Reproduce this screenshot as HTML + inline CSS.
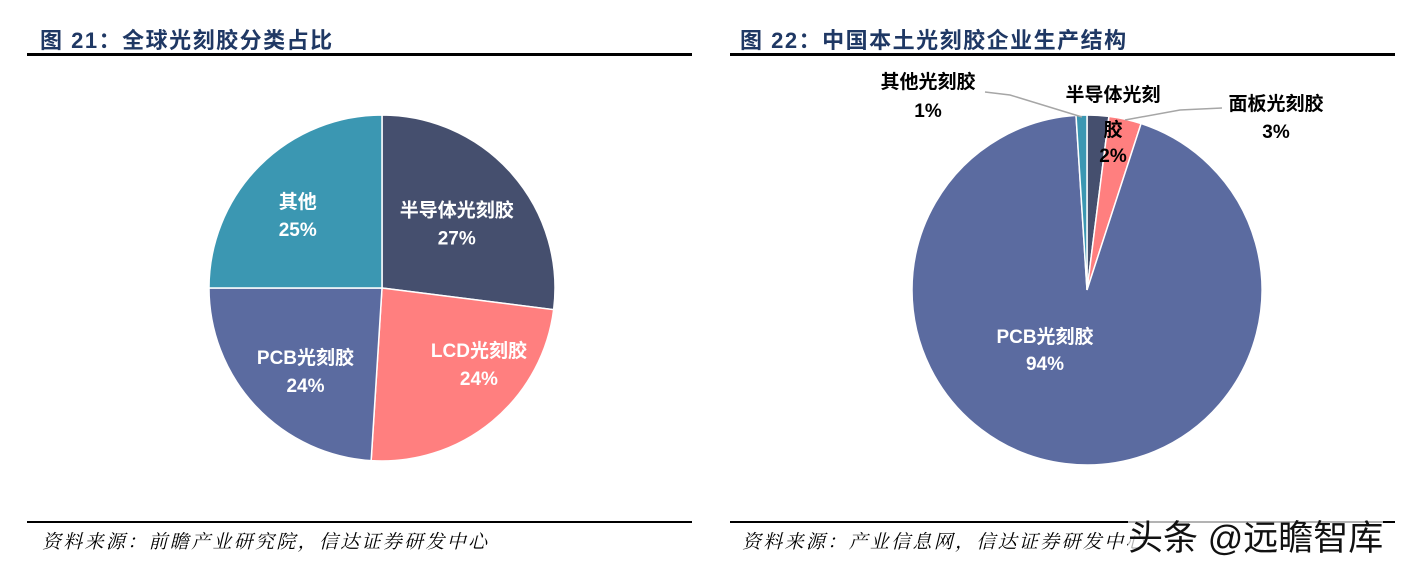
<!DOCTYPE html>
<html><head><meta charset="utf-8"><style>
html,body{margin:0;width:1402px;height:567px;overflow:hidden}
body{background:#fff;position:relative;font-family:"Liberation Sans","Noto Sans CJK SC",sans-serif}
.t{position:absolute;top:23px;font-size:22px;font-weight:bold;color:#1F3864;letter-spacing:1.5px;white-space:nowrap}
.ln{position:absolute;background:#000}
.src{position:absolute;top:527px;font-size:19px;letter-spacing:2.3px;font-style:italic;color:#000;font-family:"Liberation Serif","Noto Serif CJK SC",serif;white-space:nowrap}
.wm{position:absolute;left:1128px;top:510px;font-size:35px;color:#111;background:rgba(255,255,255,0.7);white-space:nowrap}
</style></head><body>
<div class="t" style="left:40px">图 21：全球光刻胶分类占比</div>
<div class="ln" style="left:27px;top:53px;width:665px;height:3px"></div>
<div class="t" style="left:740px">图 22：中国本土光刻胶企业生产结构</div>
<div class="ln" style="left:730px;top:53px;width:665px;height:3px"></div>
<div class="ln" style="left:27px;top:521px;width:665px;height:2px"></div>
<div class="ln" style="left:730px;top:521px;width:665px;height:2px"></div>
<div class="src" style="left:42px">资料来源：前瞻产业研究院，信达证券研发中心</div>
<div class="src" style="left:742px">资料来源：产业信息网，信达证券研发中心</div>
<svg id="svg" width="1402" height="567" style="position:absolute;left:0;top:0"></svg>
<div class="wm">头条 @远瞻智库</div>
<script>
const leftCats=["半导体光刻胶","LCD光刻胶","PCB光刻胶","其他"];
const leftVals=[27,24,24,25];
const rightCats=["半导体光刻胶","面板光刻胶","PCB光刻胶","其他光刻胶"];
const rightVals=[2,3,94,1];
const colors=["#454F6E","#FF7F7F","#5B6BA0","#3B97B2"];
const NS="http://www.w3.org/2000/svg";
const svg=document.getElementById('svg');
function mk(t,a){const e=document.createElementNS(NS,t);for(const k in a)e.setAttribute(k,a[k]);svg.appendChild(e);return e;}
function pt(cx,cy,r,f){const a=f*2*Math.PI;return [cx+r*Math.sin(a),cy-r*Math.cos(a)];}
function text(x,y,s,fill,name){const e=mk('text',{x:x,y:y,'text-anchor':'middle','font-size':19,'font-weight':'bold',fill:fill,'font-family':'Liberation Sans, Noto Sans CJK SC, sans-serif'});e.textContent=s;


return e;}
function pie(cx,cy,r,vals,prefix){const tot=vals.reduce((a,b)=>a+b,0);let c=0;const mids=[];
vals.forEach((v,i)=>{const f0=c/tot,f1=(c+v)/tot;c+=v;const p0=pt(cx,cy,r,f0),p1=pt(cx,cy,r,f1);
const p=mk('path',{d:`M${cx},${cy}L${p0[0]},${p0[1]}A${r},${r} 0 ${f1-f0>0.5?1:0} 1 ${p1[0]},${p1[1]}Z`,fill:colors[i],stroke:'#fff','stroke-width':1.5});


mids.push((f0+f1)/2);});return {tot,mids};}
// left
const L=pie(382,288,173,leftVals,'left');
const ldx=[-4,30,0,-10], ldy=[4,-6,10,0];
leftCats.forEach((c,i)=>{const p=pt(382,288,105,L.mids[i]);
text(p[0]+ldx[i],p[1]-6+ldy[i],c,'#fff','left-label-'+i);
text(p[0]+ldx[i],p[1]+22+ldy[i],Math.round(leftVals[i]/L.tot*100)+'%','#fff','left-pct-'+i);});
// right
const R=pie(1087,290,175,rightVals,'right');
const pc=i=>Math.round(rightVals[i]/R.tot*100)+'%';
text(1045,343,rightCats[2],'#fff','right-label-2');text(1045,370,pc(2),'#fff','right-pct-2');
text(1113,101,'半导体光刻','#000','right-label-0');text(1113,136,'胶','#000','right-label-0b');text(1113,162,pc(0),'#000','right-pct-0');
text(1276,110,rightCats[1],'#000','right-label-1');text(1276,138,pc(1),'#000','right-pct-1');
text(928,88,rightCats[3],'#000','right-label-3');text(928,117,pc(3),'#000','right-pct-3');
const l1=mk('polyline',{points:'1125,120 1180,110 1222,108',fill:'none',stroke:'#a6a6a6','stroke-width':1.5});

const l2=mk('polyline',{points:'985,92 1010,95 1082,117',fill:'none',stroke:'#a6a6a6','stroke-width':1.5});

</script>
</body></html>
